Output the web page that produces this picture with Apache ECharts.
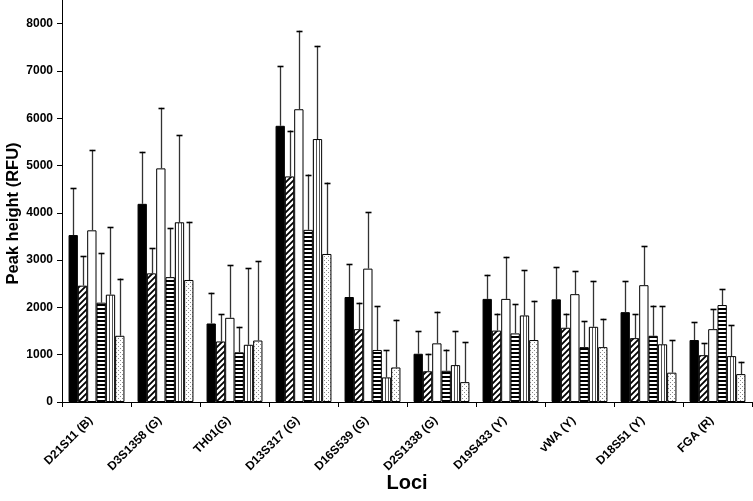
<!DOCTYPE html>
<html>
<head>
<meta charset="utf-8">
<script src="https://cdn.jsdelivr.net/npm/echarts@6/dist/echarts.min.js"></script>
<style>
html,body{margin:0;padding:0;background:#fff;}
#main{width:753px;height:501px;}
</style>
</head>
<body>
<div id="main"></div>
<script>
const categories = ['D21S11 (B)','D3S1358 (G)','TH01(G)','D13S317 (G)','D16S539 (G)','D2S1338 (G)','D19S433 (Y)','vWA (Y)','D18S51 (Y)','FGA (R)'];
const yTicks = [0,1000,2000,3000,4000,5000,6000,7000,8000];

const blackVals = [3530, 4190, 1660, 5840, 2220, 1020, 2180, 2170, 1900, 1310];
const blackErr  = [4520, 5290, 2310, 7100, 2910, 1500, 2690, 2850, 2550, 1690];
const hatchVals = [2460, 2720, 1280, 4770, 1540, 650, 1510, 1570, 1350, 990];
const hatchErr  = [3080, 3250, 1860, 5740, 2100, 1020, 1870, 1870, 1860, 1240];
const whiteVals = [3630, 4940, 1780, 6190, 2820, 1240, 2180, 2280, 2470, 1540];
const whiteErr  = [5330, 6220, 2890, 7850, 4010, 1910, 3070, 2760, 3290, 1960];
const horizVals = [2100, 2640, 1050, 3640, 1100, 660, 1450, 1160, 1400, 2050];
const horizErr  = [3150, 3680, 1590, 4810, 2030, 1110, 2070, 1710, 2040, 2390];
const vertVals  = [2270, 3800, 1210, 5560, 520, 780, 1830, 1590, 1220, 970];
const vertErr   = [3700, 5640, 2830, 7530, 1090, 1500, 2790, 2560, 2020, 1620];
const dotVals   = [1400, 2580, 1300, 3130, 730, 420, 1310, 1160, 620, 590];
const dotErr    = [2610, 3810, 2980, 4640, 1740, 1260, 2140, 1760, 1310, 850];

function makeCanvas(w, h, draw) {
  const c = document.createElement('canvas');
  c.width = w; c.height = h;
  const ctx = c.getContext('2d');
  ctx.fillStyle = '#fff'; ctx.fillRect(0, 0, w, h);
  draw(ctx);
  return c;
}
const diagPat = makeCanvas(6, 6, ctx => {
  ctx.strokeStyle = '#000'; ctx.lineWidth = 1.8;
  ctx.beginPath();
  ctx.moveTo(-1, 7); ctx.lineTo(7, -1);
  ctx.moveTo(-4, 4); ctx.lineTo(4, -4);
  ctx.moveTo(2, 10); ctx.lineTo(10, 2);
  ctx.stroke();
});
const horizPat = makeCanvas(4, 4, ctx => {
  ctx.fillStyle = '#000'; ctx.fillRect(0, 0, 4, 2);
});
const vertPat = makeCanvas(3, 3, ctx => {
  ctx.fillStyle = '#555'; ctx.fillRect(1, 0, 1, 3);
});
const dotPat = makeCanvas(4, 4, ctx => {
  ctx.fillStyle = '#888'; ctx.fillRect(0, 0, 1, 1); ctx.fillRect(2, 2, 1, 1);
});

const seriesDefs = [
  { name: 'A', vals: blackVals, err: blackErr, color: '#000' },
  { name: 'B', vals: hatchVals, err: hatchErr, color: { image: diagPat, repeat: 'repeat' } },
  { name: 'C', vals: whiteVals, err: whiteErr, color: '#fff' },
  { name: 'D', vals: horizVals, err: horizErr, color: { image: horizPat, repeat: 'repeat' } },
  { name: 'E', vals: vertVals, err: vertErr, color: { image: vertPat, repeat: 'repeat' } },
  { name: 'F', vals: dotVals, err: dotErr, color: { image: dotPat, repeat: 'repeat' } }
];
const GAP = 0.19;
const N = seriesDefs.length;

const series = [];
seriesDefs.forEach((d, i) => {
  series.push({
    type: 'bar', name: d.name, data: d.vals,
    barGap: '0%', barCategoryGap: (GAP * 100) + '%',
    itemStyle: { color: d.color, borderColor: '#000', borderWidth: 1 },
    z: 2, silent: true
  });
});
seriesDefs.forEach((d, i) => {
  series.push({
    type: 'custom', name: d.name + 'err',
    data: d.vals.map((v, k) => [k, v, d.err[k]]),
    encode: { x: 0, y: [1, 2] },
    z: 3, silent: true,
    renderItem: function (params, api) {
      const cat = api.value(0);
      const base = api.coord([cat, api.value(1)]);
      const top = api.coord([cat, api.value(2)]);
      const band = api.size([1, 0])[0];
      const bw = band * (1 - GAP) / N;
      const x = Math.round(base[0] + (i - (N - 1) / 2) * bw) + 0.5;
      return {
        type: 'group',
        children: [
          { type: 'line', shape: { x1: x, y1: base[1], x2: x, y2: top[1] }, style: { stroke: '#333', lineWidth: 1.3 } },
          { type: 'line', shape: { x1: x - 3, y1: Math.round(top[1]) + 0.5, x2: x + 3, y2: Math.round(top[1]) + 0.5 }, style: { stroke: '#000', lineWidth: 1.6 } }
        ]
      };
    }
  });
});

const chart = echarts.init(document.getElementById('main'), null, { renderer: 'canvas' });
chart.setOption({
  animation: false,
  backgroundColor: '#fff',
  grid: { left: 62, right: 1, top: 0, bottom: 99, containLabel: false, outerBoundsMode: 'none' },
  xAxis: {
    type: 'category', data: categories,
    name: 'Loci', nameLocation: 'middle', nameGap: 71, nameMoveOverlap: false,
    nameTextStyle: { fontFamily: 'Liberation Sans', fontWeight: 'bold', fontSize: 20, color: '#000' },
    axisLine: { lineStyle: { color: '#000', width: 1 } },
    axisTick: { show: true, length: 5, lineStyle: { color: '#000' } },
    axisLabel: { rotate: 45, margin: 11, interval: 0, padding: [0, 8, 0, 0], fontFamily: 'Liberation Sans', fontWeight: 'bold', fontSize: 12, color: '#000' }
  },
  yAxis: {
    type: 'value', min: yTicks[0], max: 8500, interval: 1000,
    name: 'Peak height (RFU)', nameLocation: 'middle', nameGap: 40, nameMoveOverlap: false,
    nameTextStyle: { fontFamily: 'Liberation Sans', fontWeight: 'bold', fontSize: 16.5, color: '#000', padding: [0, 25, 0, 0] },
    axisLine: { show: true, lineStyle: { color: '#000', width: 1 } },
    axisTick: { show: true, length: 5, lineStyle: { color: '#000' } },
    splitLine: { show: false },
    axisLabel: {
      margin: 9, fontFamily: 'Liberation Sans', fontWeight: 'bold', fontSize: 12, color: '#000',
      showMaxLabel: false,
      formatter: v => (yTicks.indexOf(v) >= 0 ? String(v) : '')
    }
  },
  series: series
});
</script>
</body>
</html>
